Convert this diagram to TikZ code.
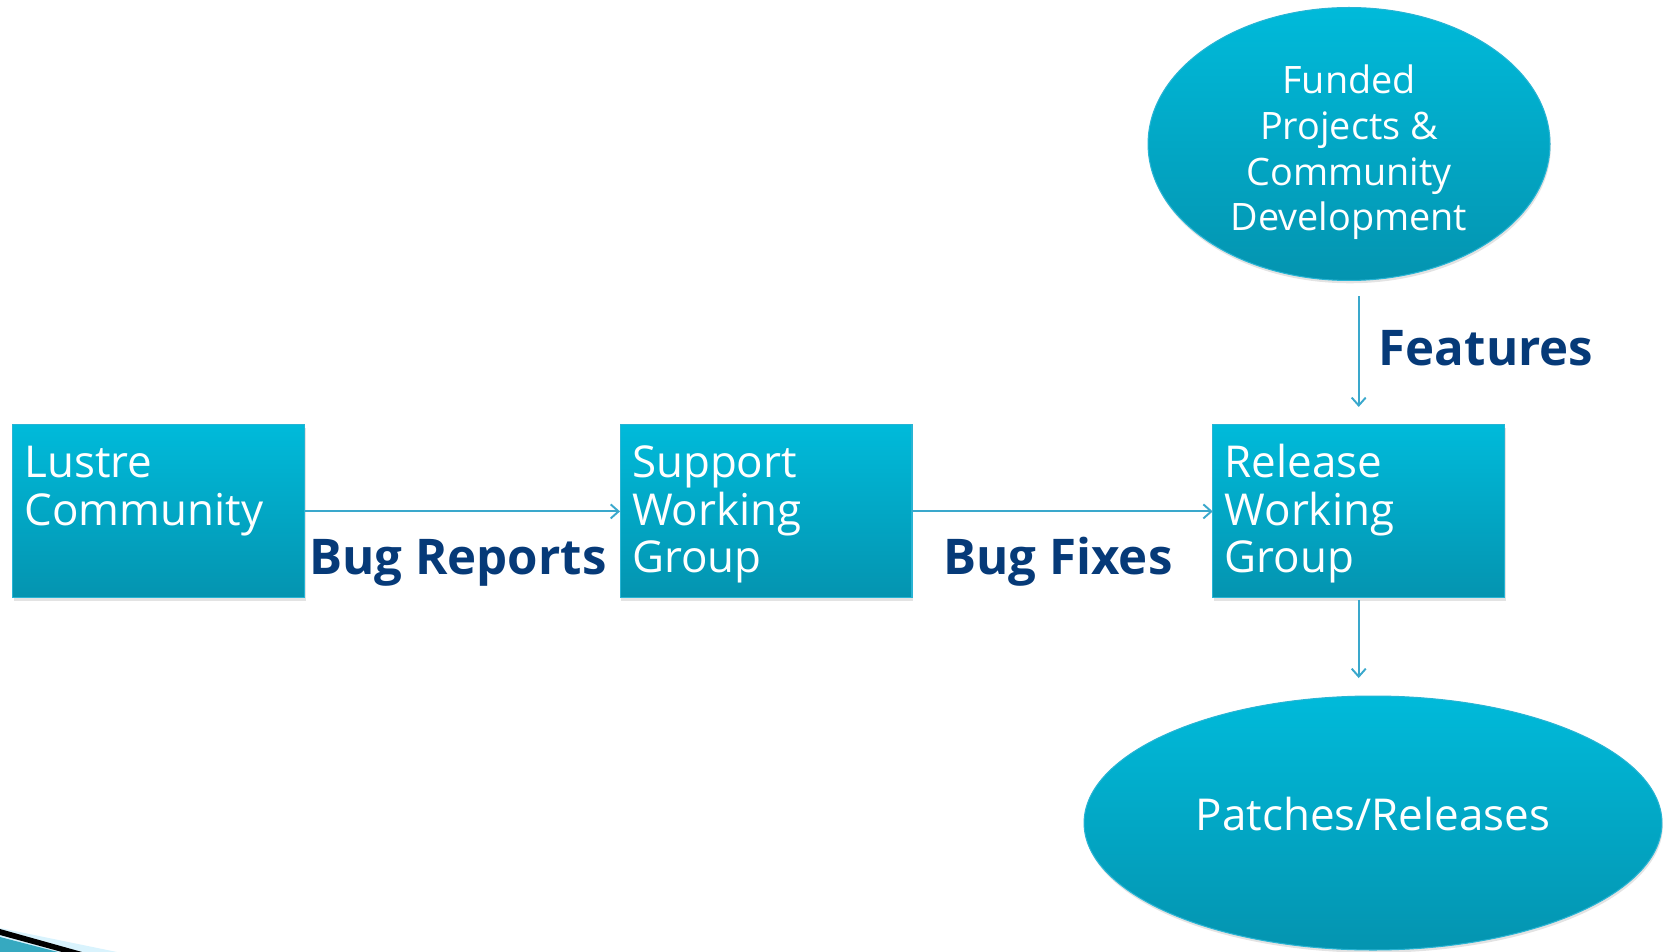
\documentclass[tikz,border=0pt]{standalone}
\usepackage{fontspec}
\setmainfont{Open Sans}
\usetikzlibrary{shapes.geometric,shadows,arrows.meta}
\definecolor{cyanTop}{RGB}{0,186,218}
\definecolor{cyanBot}{RGB}{4,148,176}
\definecolor{cyanEdge}{RGB}{40,180,212}
\definecolor{arrowBlue}{RGB}{58,168,204}
\definecolor{labelNavy}{RGB}{6,58,120}
\newcommand{\boxtext}[1]{\parbox[c][3.46cm][t]{5.36cm}{\rule{0pt}{30pt}#1}}

\begin{document}
\begin{tikzpicture}
        [x=0.02cm, y=-0.02cm,
        box/.style={rectangle, draw=cyanEdge, line width=0.6pt, top color=cyanTop, bottom color=cyanBot, inner xsep=0.24cm, inner ysep=0pt, outer sep=0pt, text=white, font=\fontsize{25}{27}\selectfont, drop shadow={shadow xshift=0.5pt, shadow yshift=-1.6pt, opacity=0.22}},
        blob/.style={ellipse, draw=cyanEdge, line width=0.6pt, top color=cyanTop, bottom color=cyanBot, inner sep=0pt, outer sep=0pt, text=white, align=center, drop shadow={shadow xshift=0.5pt, shadow yshift=-1.6pt, opacity=0.22}},
        lbl/.style={anchor=base, text=labelNavy, font=\fontsize{28}{30}\selectfont\bfseries},
        flow/.style={draw=arrowBlue, line width=1.1pt, -{Straight Barb[length=4.5pt, width=8pt]}}]
        \useasboundingbox (0,0) rectangle (1665,952);

        % slide corner
        \fill[cyan!15] (0,928) -- (117,952) -- (0,952) -- cycle;
        \fill[black] (0,929) -- (82,952) -- (62,952) -- (0,935) -- cycle;
        \fill[cyanBot!80] (0,937) -- (58,952) -- (0,952) -- cycle;

        \node[box] (LC) at (158.7,511.4) {\boxtext{Lustre\\Community}};
        \node[box] (SWG) at (766,511.4) {\boxtext{Support\\Working\\Group}};
        \node[box] (RWG) at (1358.7,511.4) {\boxtext{Release\\Working\\Group}};
        \node[blob, minimum width=8.04cm, minimum height=5.46cm, font=\fontsize{21.5}{26}\selectfont] (FP) at (1349,144) {\rule{0pt}{26pt}Funded\\Projects \&\\Community\\Development};
        \node[blob, minimum width=11.56cm, minimum height=5.08cm, font=\fontsize{25}{27}\selectfont] (PR) at (1373,823) {Patches/Releases\rule[-10pt]{0pt}{10pt}};

        \node[lbl] (bugrep) at (458,574) {Bug Reports};
        \node[lbl] (bugfix) at (1058,574) {Bug Fixes};
        \node[lbl] (feat) at (1486,366) {Features};

        \draw[flow] (LC) -- (SWG);
        \draw[flow] (SWG) -- (RWG);
        \draw[flow, shorten <=0.32cm, shorten >=0.36cm] (FP.south -| RWG.north) -- (RWG.north);
        \draw[flow, shorten <=0.04cm, shorten >=0.36cm] (RWG.south) -- (RWG.south |- PR.north);

\end{tikzpicture}
\end{document}
